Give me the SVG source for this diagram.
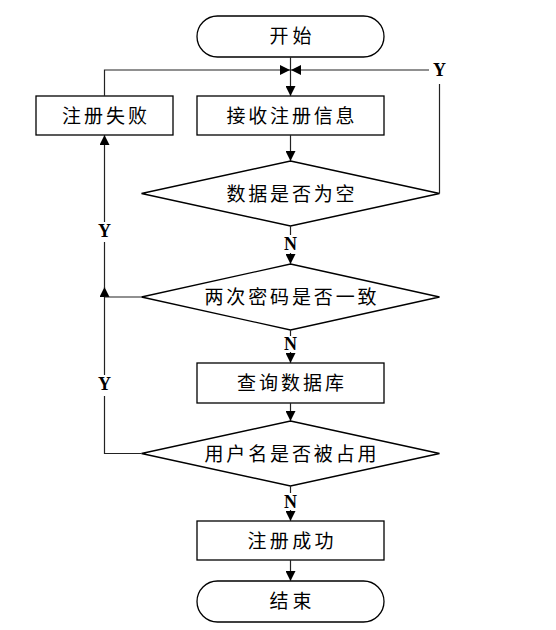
<svg xmlns="http://www.w3.org/2000/svg" width="556" height="630" viewBox="0 0 556 630">
<defs>
<style>
.shape{fill:#fff;stroke:#000;stroke-width:1.3}
.line{fill:none;stroke:#222;stroke-width:1.2}
.t{font-family:"Noto Sans CJK SC","Noto Sans",sans-serif;font-size:19px;fill:#000;text-anchor:middle}
.yn{font-family:"Liberation Serif",serif;font-weight:bold;font-size:18px;fill:#000;text-anchor:middle}
</style>
<marker id="ah" markerUnits="userSpaceOnUse" markerWidth="10" markerHeight="10" refX="10" refY="5" orient="auto">
<path d="M0,0 L10,5 L0,10 z" fill="#000"/>
</marker>
</defs>
<rect width="556" height="630" fill="#fff"/>
<g id="start"><rect class="shape" x="197" y="16" width="187" height="41" rx="20.5"/><text class="t" x="290.5" y="43" textLength="42">开始</text></g>
<g id="fail"><rect class="shape" x="36" y="96" width="137" height="39"/><text class="t" x="104.5" y="122.5" textLength="85">注册失败</text></g>
<g id="receive"><rect class="shape" x="197" y="96" width="187" height="39"/><text class="t" x="290.5" y="122.5" textLength="128">接收注册信息</text></g>
<g id="d1"><polygon class="shape" points="290.5,161 439.5,193.5 290.5,226 141.5,193.5"/><text class="t" x="290.5" y="200.5" textLength="128">数据是否为空</text></g>
<g id="d2"><polygon class="shape" points="290.5,264 439.5,297 290.5,330 141.5,297"/><text class="t" x="290.5" y="304" textLength="172">两次密码是否一致</text></g>
<g id="query"><rect class="shape" x="197" y="363" width="187" height="40"/><text class="t" x="290.5" y="390" textLength="107">查询数据库</text></g>
<g id="d3"><polygon class="shape" points="290.5,421 439.5,453.5 290.5,486 141.5,453.5"/><text class="t" x="290.5" y="460.5" textLength="172">用户名是否被占用</text></g>
<g id="success"><rect class="shape" x="197" y="521" width="187" height="39"/><text class="t" x="290.5" y="547.5" textLength="86">注册成功</text></g>
<g id="end"><rect class="shape" x="197" y="581" width="187" height="41" rx="20.5"/><text class="t" x="290.5" y="608" textLength="42">结束</text></g>
<g id="connectors">
<path class="line" d="M290.5,57 V96" marker-end="url(#ah)"/>
<path class="line" d="M104.5,96 V70 H290" marker-end="url(#ah)"/>
<path class="line" d="M439.5,193.5 V84"/>
<path class="line" d="M429,70 H291" marker-end="url(#ah)"/>
<text class="yn" x="439.5" y="76">Y</text>
<path class="line" d="M290.5,135 V161" marker-end="url(#ah)"/>
<path class="line" d="M290.5,226 V235"/>
<text class="yn" x="290.5" y="250">N</text>
<path class="line" d="M290.5,253 V264" marker-end="url(#ah)"/>
<path class="line" d="M290.5,330 V336"/>
<text class="yn" x="290.5" y="350">N</text>
<path class="line" d="M290.5,352 V363" marker-end="url(#ah)"/>
<path class="line" d="M290.5,403 V421" marker-end="url(#ah)"/>
<path class="line" d="M290.5,486 V493"/>
<text class="yn" x="290.5" y="508">N</text>
<path class="line" d="M290.5,510 V521" marker-end="url(#ah)"/>
<path class="line" d="M290.5,560 V581" marker-end="url(#ah)"/>
<path class="line" d="M141.5,453.5 H104.5 V396"/>
<text class="yn" x="104.5" y="390">Y</text>
<path class="line" d="M104.5,375 V287" marker-end="url(#ah)"/>
<path class="line" d="M141.5,297 H104.5"/>
<path class="line" d="M104.5,288 V242"/>
<text class="yn" x="104.5" y="237">Y</text>
<path class="line" d="M104.5,222 V135" marker-end="url(#ah)"/>
</g>
</svg>
